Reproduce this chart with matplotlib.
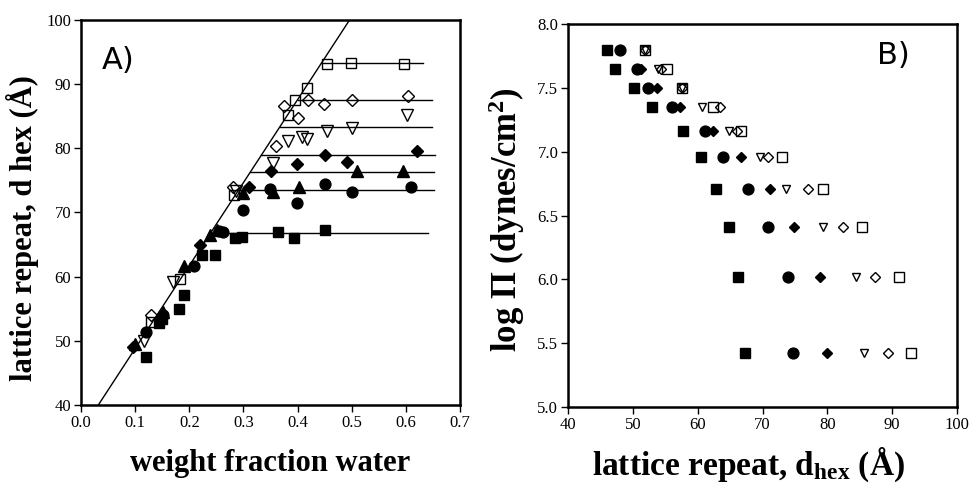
import numpy as np
import matplotlib
matplotlib.use("Agg")
import matplotlib.pyplot as plt

# ---- panel A: lattice repeat vs weight fraction water ----
fsq_w = [0.120, 0.144, 0.150, 0.181, 0.191, 0.224, 0.2475, 0.284, 0.298, 0.3645, 0.394, 0.4507]
fsq_d = [47.5, 52.8, 53.4, 54.9, 57.1, 63.3, 63.3, 66.0, 66.2, 66.9, 66.1, 67.3]
fci_w = [0.120, 0.151, 0.209, 0.255, 0.262, 0.299, 0.349, 0.3996, 0.4507, 0.500, 0.6095]
fci_d = [51.3, 54.0, 61.6, 67.1, 67.0, 70.4, 73.7, 71.5, 74.4, 73.2, 73.9]
ftr_w = [0.0997, 0.151, 0.191, 0.238, 0.2506, 0.300, 0.355, 0.403, 0.509, 0.594]
ftr_d = [49.5, 54.5, 61.6, 66.5, 67.2, 73.0, 73.2, 74.0, 76.4, 76.5]
fdi_w = [0.0967, 0.148, 0.2198, 0.310, 0.350, 0.3996, 0.4507, 0.491, 0.620]
fdi_d = [49.1, 53.5, 64.9, 74.0, 76.5, 77.6, 79.0, 77.8, 79.6]
otr_w = [0.1164, 0.169, 0.287, 0.355, 0.383, 0.4076, 0.418, 0.4538, 0.501, 0.6016]
otr_d = [49.9, 59.1, 73.3, 77.7, 81.2, 81.7, 81.4, 82.7, 83.2, 85.2]
odi_w = [0.130, 0.281, 0.3596, 0.3756, 0.4014, 0.4187, 0.4495, 0.501, 0.6034]
odi_d = [54.0, 74.0, 80.3, 86.6, 84.8, 87.5, 86.9, 87.5, 88.2]
osq_w = [0.1287, 0.183, 0.2826, 0.3818, 0.3953, 0.4168, 0.455, 0.4987, 0.5966]
osq_d = [52.9, 59.6, 72.7, 85.2, 87.5, 89.4, 93.1, 93.3, 93.1]

# swelling line and plateau levels (level, end of plateau)
diag_w = [0.032, 0.496]
diag_d = [40, 100]
plateau_d = [66.75, 73.5, 76.3, 78.9, 83.4, 87.6, 93.3]
plateau_end = [0.640, 0.652, 0.652, 0.654, 0.648, 0.648, 0.632]

# ---- panel B: log osmotic pressure vs lattice repeat ----
logP = [7.80, 7.65, 7.50, 7.35, 7.16, 6.96, 6.71, 6.41, 6.02, 5.42]
b_fsq = [45.96, 47.25, 50.2, 52.9, 57.8, 60.5, 62.9, 64.9, 66.2, 67.3]
b_fci = [48.0, 50.6, 52.4, 56.1, 61.1, 63.9, 67.8, 70.9, 73.9, 74.7]
b_fdi = [np.nan, 51.3, 53.8, 57.3, 62.4, 66.7, 71.1, 74.8, 78.8, 80.0]
b_otr = [51.8, 53.9, 57.6, 60.6, 64.9, 69.6, 73.7, 79.3, 84.4, 85.6]
b_odi = [51.8, 54.4, 57.6, 63.5, 66.1, 70.9, 77.0, 82.4, 87.4, 89.3]
b_osq = [51.8, 55.2, 57.6, 62.3, 66.7, 73.0, 79.3, 85.4, 91.1, 92.9]

serif = "Liberation Serif"
plt.rcParams["font.family"] = serif
plt.rcParams["mathtext.fontset"] = "custom"
plt.rcParams["mathtext.rm"] = serif
plt.rcParams["mathtext.it"] = serif + ":italic"
plt.rcParams["mathtext.bf"] = serif + ":bold"

fig = plt.figure(figsize=(9.71, 4.84), dpi=100)
axA = fig.add_axes([81 / 971, 1 - 405 / 484, 379 / 971, 385 / 484])
axB = fig.add_axes([568 / 971, 1 - 407 / 484, 389 / 971, 383 / 484])


def style(ax):
    for s in ax.spines.values():
        s.set_linewidth(1.8)
    ax.tick_params(direction="out", length=5, width=1, labelsize=12,
                   top=False, right=False, pad=2)


# panel A
axA.plot(diag_w, diag_d, color="black", lw=1, zorder=3)
slope = (diag_d[1] - diag_d[0]) / (diag_w[1] - diag_w[0])
for lvl, end in zip(plateau_d, plateau_end):
    start = diag_w[0] + (lvl - diag_d[0]) / slope
    axA.plot([start, end], [lvl, lvl], color="black", lw=1, zorder=3)

kw_f = dict(ls="none", color="black", zorder=2)
kw_o = dict(ls="none", mfc="none", mec="black", mew=1, zorder=2)
axA.plot(fsq_w, fsq_d, "s", ms=7.5, **kw_f)
axA.plot(fci_w, fci_d, "o", ms=7.8, **kw_f)
axA.plot(ftr_w, ftr_d, "^", ms=8, **kw_f)
axA.plot(fdi_w, fdi_d, "D", ms=6.3, **kw_f)
axA.plot(otr_w, otr_d, "v", ms=8, **kw_o)
axA.plot(odi_w, odi_d, "D", ms=6.3, **kw_o)
axA.plot(osq_w, osq_d, "s", ms=7.5, **kw_o)

axA.set_xlim(0, 0.7)
axA.set_ylim(40, 100)
axA.set_xticks(np.arange(0, 0.71, 0.1))
axA.set_xticklabels(["0.0", "0.1", "0.2", "0.3", "0.4", "0.5", "0.6", "0.7"])
axA.set_yticks(range(40, 101, 10))
style(axA)
axA.set_xlabel("weight fraction water", fontsize=22, fontweight="bold", labelpad=13)
axA.set_ylabel("lattice repeat, d hex (Å)", fontsize=22, fontweight="bold")
axA.yaxis.set_label_coords(-0.112, 0.46)
axA.text(0.055, 0.896, "A)", transform=axA.transAxes, fontsize=22,
         family="DejaVu Sans", va="center", ha="left")

# panel B
axB.plot(b_fsq, logP, "s", ms=7.5, **kw_f)
axB.plot(b_fci, logP, "o", ms=7.8, **kw_f)
axB.plot(b_fdi, logP, "D", ms=5.5, **kw_f)
axB.plot(b_otr, logP, "v", ms=6, **kw_o)
axB.plot(b_odi, logP, "D", ms=5.5, **kw_o)
axB.plot(b_osq, logP, "s", ms=7.5, **kw_o)

axB.set_xlim(40, 100)
axB.set_ylim(5.0, 8.0)
axB.set_xticks(range(40, 101, 10))
axB.set_yticks(np.arange(5.0, 8.01, 0.5))
axB.set_yticklabels([f"{v:.1f}" for v in np.arange(5.0, 8.01, 0.5)])
style(axB)
axB.set_xlabel(r"lattice repeat, d$_{\mathbf{hex}}$ (Å)", fontsize=24, fontweight="bold")
axB.xaxis.set_label_coords(0.463, -0.1)
axB.set_ylabel(r"log $\mathbf{\Pi}$ (dynes/cm$^{\mathbf{2}}$)", fontsize=25, fontweight="bold")
axB.yaxis.set_label_coords(-0.105, 0.49)
axB.text(0.795, 0.919, "B)", transform=axB.transAxes, fontsize=22,
         family="DejaVu Sans", va="center", ha="left")

fig.savefig("out.png", dpi=100)
